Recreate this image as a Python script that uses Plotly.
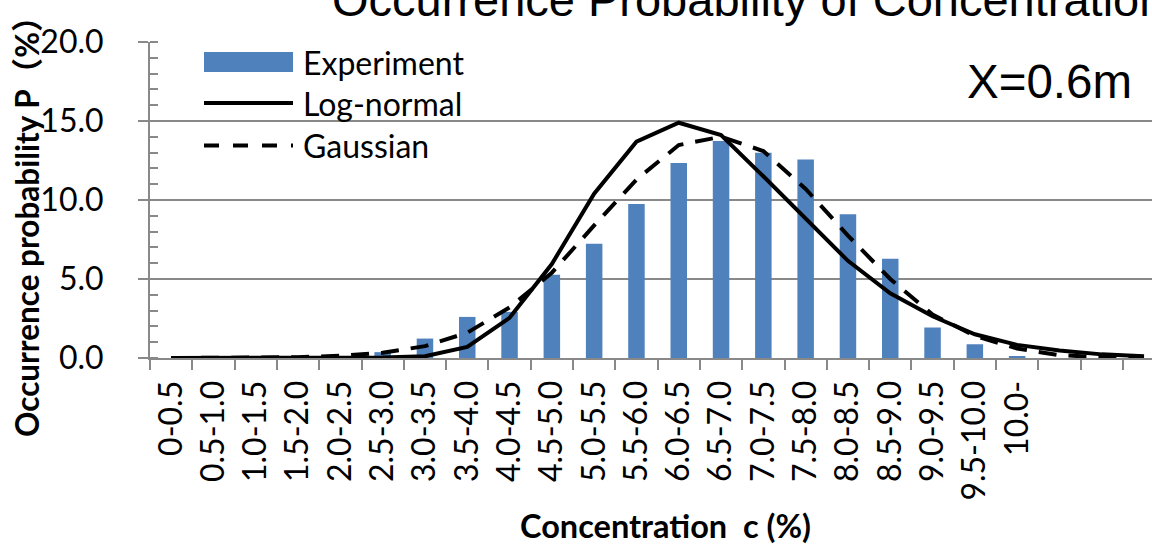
import plotly.graph_objects as go

# Concentration bins (last three bins carry no label)
categories = ["0-0.5", "0.5-1.0", "1.0-1.5", "1.5-2.0", "2.0-2.5", "2.5-3.0",
              "3.0-3.5", "3.5-4.0", "4.0-4.5", "4.5-5.0", "5.0-5.5", "5.5-6.0",
              "6.0-6.5", "6.5-7.0", "7.0-7.5", "7.5-8.0", "8.0-8.5", "8.5-9.0",
              "9.0-9.5", "9.5-10.0", "10.0-", " ", "  ", "   "]

experiment = [0, 0, 0, 0, 0, 0.37, 1.23, 2.60, 2.92, 5.27, 7.23, 9.75,
              12.34, 13.73, 12.99, 12.57, 9.10, 6.28, 1.93, 0.87, 0.12, 0, 0, 0]

log_normal = [0, 0, 0, 0, 0.01, 0.03, 0.11, 0.70, 2.54, 5.95, 10.40, 13.69,
              14.89, 14.11, 11.50, 8.80, 6.15, 4.10, 2.64, 1.50, 0.83, 0.47, 0.23, 0.11]

gaussian = [0, 0, 0.02, 0.05, 0.14, 0.33, 0.75, 1.60, 3.20, 5.40, 8.39, 11.29,
            13.48, 14.00, 13.10, 10.70, 7.75, 5.00, 2.75, 1.40, 0.60, 0.18, 0.05, 0.02]

y_ticks = [0, 5, 10, 15, 20]

BAR_BLUE = "#4F81BD"
AXIS_GREY = "#898989"
TICK_FONT = "Lato, 'Noto Sans', sans-serif"

W, H = 1152, 544
L, R, T, B = 150, 0, 42, 186
PW, PH = W - L - R, H - T - B
CAT_PX = 42.3  # pixel width of one concentration bin


def px_x(x):
    return (x - L) / PW


def px_y(y):
    return (H - B - y) / PH


fig = go.Figure()

fig.add_trace(go.Bar(
    x=categories, y=experiment, name="Experiment",
    marker=dict(color=BAR_BLUE, line=dict(width=0)), width=0.39,
    showlegend=False,
))
fig.add_trace(go.Scatter(
    x=categories, y=log_normal, name="Log-normal", mode="lines",
    line=dict(color="black", width=4), showlegend=False,
))
fig.add_trace(go.Scatter(
    x=categories, y=gaussian, name="Gaussian", mode="lines",
    line=dict(color="black", width=4, dash="18px,12px"), showlegend=False,
))

# Hand-drawn legend block in the upper-left corner
shapes = [
    dict(type="rect", xref="paper", yref="paper",
         x0=px_x(204), x1=px_x(293), y0=px_y(72), y1=px_y(52),
         fillcolor=BAR_BLUE, line=dict(width=0)),
    dict(type="line", xref="paper", yref="paper",
         x0=px_x(204), x1=px_x(293), y0=px_y(103), y1=px_y(103),
         line=dict(color="black", width=4)),
    dict(type="line", xref="paper", yref="paper",
         x0=px_x(204), x1=px_x(293), y0=px_y(145.5), y1=px_y(145.5),
         line=dict(color="black", width=4, dash="15px,14px")),
]

annotations = []
for label, yc in [("Experiment", 62), ("Log-normal", 103), ("Gaussian", 145)]:
    annotations.append(dict(
        text=label, xref="paper", yref="paper", x=px_x(301), y=px_y(yc),
        xanchor="left", yanchor="middle", showarrow=False,
        font=dict(family=TICK_FONT, size=32, color="black")))

annotations += [
    dict(text="X=0.6m", xref="paper", yref="paper", x=px_x(965), y=px_y(81),
         xanchor="left", yanchor="middle", showarrow=False,
         font=dict(family="Liberation Sans, Arial, sans-serif", size=47.5, color="black")),
    dict(text="Occurrence Probability of Concentration", xref="paper", yref="paper",
         x=px_x(330), y=px_y(0), xanchor="left", yanchor="middle", showarrow=False,
         font=dict(family="Liberation Sans, Arial, sans-serif", size=47, color="black")),
    dict(text="<b>Concentration  c (%)</b>", xref="paper", yref="paper",
         x=px_x(665), y=px_y(525), xanchor="center", yanchor="middle", showarrow=False,
         font=dict(family=TICK_FONT, size=32.5, color="black")),
    dict(text="<b>Occurrence probability P（%）</b>", xref="paper", yref="paper",
         x=px_x(27), y=px_y(219), xanchor="center", yanchor="middle", showarrow=False,
         textangle=-90,
         font=dict(family=TICK_FONT + ", 'Noto Sans CJK SC'", size=31.5, color="black")),
]

fig.update_layout(
    width=W, height=H,
    margin=dict(l=L, r=R, t=T, b=B, pad=0, autoexpand=False),
    paper_bgcolor="white", plot_bgcolor="white",
    shapes=shapes, annotations=annotations,
    showlegend=False,
)

fig.update_xaxes(
    type="category", categoryorder="array", categoryarray=categories,
    range=[-0.5, PW / CAT_PX - 0.5], automargin=False,
    tickson="boundaries", ticks="outside", ticklen=10, tickwidth=2, tickcolor=AXIS_GREY,
    showline=True, linecolor=AXIS_GREY, linewidth=2,
    showgrid=False, tickangle=-90, ticklabelstandoff=8,
    tickfont=dict(family=TICK_FONT, size=32, color="black"),
)

fig.update_yaxes(
    range=[0, 20], tickvals=y_ticks, tickformat=".1f", automargin=False,
    ticks="outside", ticklen=10, tickwidth=2, tickcolor=AXIS_GREY,
    minor=dict(dtick=1, ticks="inside", ticklen=8, tickwidth=2, tickcolor=AXIS_GREY, showgrid=False),
    showline=True, linecolor=AXIS_GREY, linewidth=2,
    showgrid=True, gridcolor=AXIS_GREY, gridwidth=2, zeroline=False,
    ticklabelstandoff=28,
    tickfont=dict(family=TICK_FONT, size=32, color="black"),
)

fig.write_html("out.html")
